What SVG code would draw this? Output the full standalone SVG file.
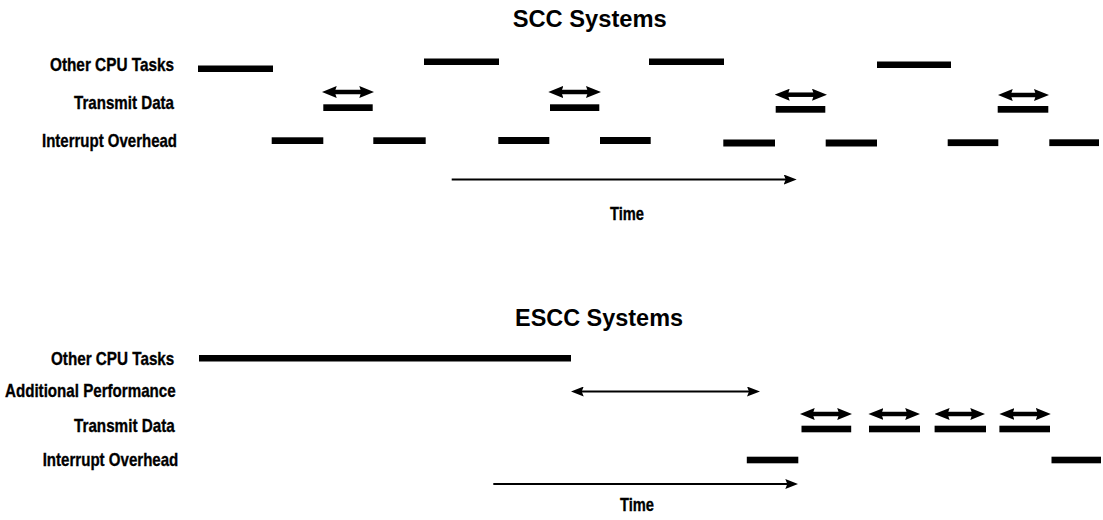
<svg xmlns="http://www.w3.org/2000/svg" width="1103" height="520" viewBox="0 0 1103 520">
  <style>
    .title { font-family: "Liberation Sans", Arial, sans-serif; font-weight: bold; font-size: 23.5px; fill: #000; }
    .lbl { font-family: "Liberation Sans", Arial, sans-serif; font-weight: bold; font-size: 19px; fill: #000; stroke: #000; stroke-width: 0.35; }
    .bar { fill: #000; }
    .thick { stroke: #000; stroke-width: 4.5; fill: none; marker-start: url(#headThick); marker-end: url(#headThick); }
    .thin { stroke: #000; stroke-width: 2; fill: none; marker-start: url(#headThin); marker-end: url(#headThin); }
    .time { stroke: #000; stroke-width: 2.2; fill: none; marker-end: url(#headThin); }
  </style>
  <defs>
    <marker id="headThick" viewBox="0 0 15 12" markerWidth="15" markerHeight="12" refX="4" refY="6" orient="auto-start-reverse" markerUnits="userSpaceOnUse">
      <path d="M0,0 L15,6 L0,12 L2,6 Z" fill="#000"/>
    </marker>
    <marker id="headThin" viewBox="0 0 13 10" markerWidth="13" markerHeight="10" refX="3" refY="5" orient="auto-start-reverse" markerUnits="userSpaceOnUse">
      <path d="M0,0 L13,5 L0,10 L2,5 Z" fill="#000"/>
    </marker>
  </defs>
  <rect width="1103" height="520" fill="#fff"/>

  <g id="scc-title"><text class="title" x="512.7" y="27" textLength="154" lengthAdjust="spacingAndGlyphs">SCC Systems</text></g>

  <g id="scc-labels">
    <text class="lbl" x="50" y="71" textLength="124" lengthAdjust="spacingAndGlyphs">Other CPU Tasks</text>
    <text class="lbl" x="74" y="109" textLength="100" lengthAdjust="spacingAndGlyphs">Transmit Data</text>
    <text class="lbl" x="42" y="147" textLength="135" lengthAdjust="spacingAndGlyphs">Interrupt Overhead</text>
  </g>

  <g id="scc-other-cpu">
    <rect class="bar" x="198" y="65.5" width="75" height="6.5"/>
    <rect class="bar" x="424" y="58.5" width="75" height="6.5"/>
    <rect class="bar" x="649" y="58.5" width="75" height="6.5"/>
    <rect class="bar" x="877" y="61.5" width="74" height="6.5"/>
  </g>

  <g id="scc-transmit">
    <rect class="bar" x="323.3" y="104.3" width="49.4" height="6.7"/>
    <rect class="bar" x="550" y="104.3" width="49.3" height="6.7"/>
    <rect class="bar" x="775.7" y="106" width="49.6" height="6.7"/>
    <rect class="bar" x="997.7" y="106" width="50.6" height="6.7"/>
  </g>

  <g id="scc-interrupt">
    <rect class="bar" x="271.7" y="137.3" width="51.6" height="6.7"/>
    <rect class="bar" x="373.3" y="137.3" width="52.4" height="6.7"/>
    <rect class="bar" x="498.3" y="137" width="51" height="7"/>
    <rect class="bar" x="600" y="137" width="50.7" height="7"/>
    <rect class="bar" x="723.3" y="139.5" width="51.7" height="7"/>
    <rect class="bar" x="825.7" y="139.5" width="51.3" height="7"/>
    <rect class="bar" x="947.7" y="139.3" width="50.6" height="6.8"/>
    <rect class="bar" x="1049.3" y="139.3" width="49.7" height="6.8"/>
  </g>

  <g id="scc-time-label"><text class="lbl" x="610" y="220" textLength="34" lengthAdjust="spacingAndGlyphs">Time</text></g>

  <g id="escc-title"><text class="title" x="515" y="326" textLength="168" lengthAdjust="spacingAndGlyphs">ESCC Systems</text></g>

  <g id="escc-labels">
    <text class="lbl" x="51" y="365" textLength="123.3" lengthAdjust="spacingAndGlyphs">Other CPU Tasks</text>
    <text class="lbl" x="5" y="396.5" textLength="170.7" lengthAdjust="spacingAndGlyphs">Additional Performance</text>
    <text class="lbl" x="74" y="432" textLength="100.7" lengthAdjust="spacingAndGlyphs">Transmit Data</text>
    <text class="lbl" x="42.7" y="465.5" textLength="135.6" lengthAdjust="spacingAndGlyphs">Interrupt Overhead</text>
  </g>

  <g id="escc-other-cpu">
    <rect class="bar" x="199" y="355" width="372" height="6.5"/>
  </g>

  <g id="escc-transmit">
    <rect class="bar" x="801.5" y="425.7" width="49.7" height="6.6"/>
    <rect class="bar" x="869" y="425.7" width="51" height="6.6"/>
    <rect class="bar" x="934.6" y="425.7" width="51.4" height="6.6"/>
    <rect class="bar" x="999.4" y="425.7" width="50.6" height="6.6"/>
  </g>

  <g id="escc-interrupt">
    <rect class="bar" x="746.8" y="456.7" width="51.5" height="6.6"/>
    <rect class="bar" x="1051.5" y="456.7" width="49.5" height="6.6"/>
  </g>

  <g id="escc-time-label"><text class="lbl" x="620" y="511" textLength="34" lengthAdjust="spacingAndGlyphs">Time</text></g>

  <g id="connectors">
    <line class="thick" x1="332.7" y1="92" x2="363.3" y2="92"/>
    <line class="thick" x1="559.3" y1="92" x2="590" y2="92"/>
    <line class="thick" x1="785.7" y1="94.7" x2="816" y2="94.7"/>
    <line class="thick" x1="1008.7" y1="95" x2="1038" y2="95"/>
    <line class="time" x1="451.7" y1="179.5" x2="786.7" y2="179.5"/>

    <line class="thin" x1="580.7" y1="391.5" x2="750" y2="391.5"/>
    <line class="thick" x1="810.7" y1="414" x2="841.2" y2="414"/>
    <line class="thick" x1="879.4" y1="414" x2="909.2" y2="414"/>
    <line class="thick" x1="945.6" y1="414" x2="974.3" y2="414"/>
    <line class="thick" x1="1010.4" y1="414" x2="1039.8" y2="414"/>
    <line class="time" x1="493.3" y1="484" x2="788.3" y2="484"/>
  </g>
</svg>
